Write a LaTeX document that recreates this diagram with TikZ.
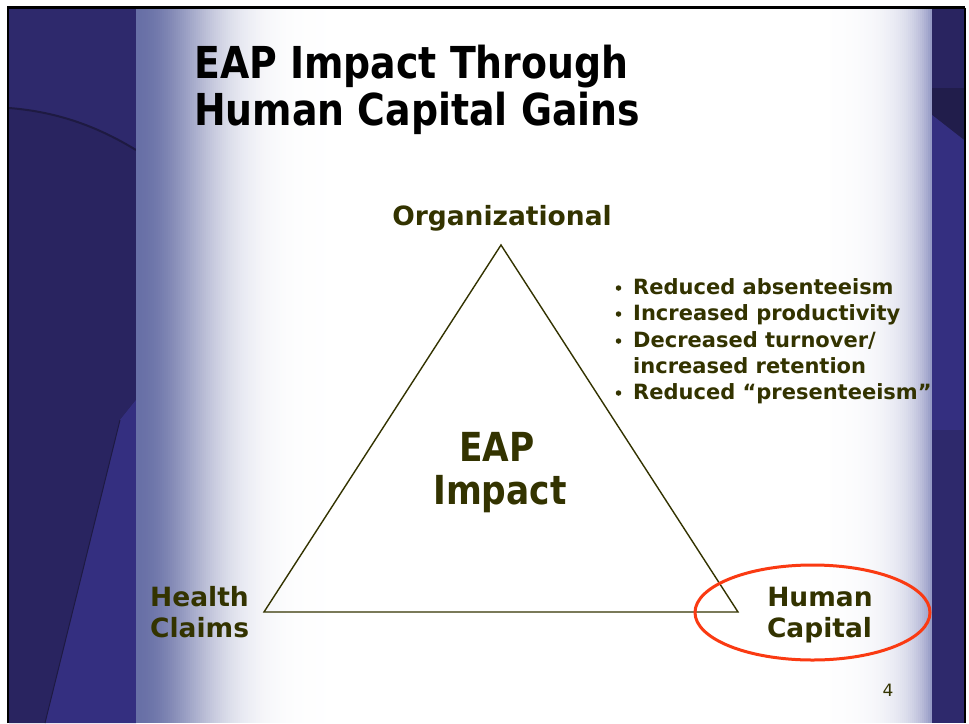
\documentclass[tikz,border=0pt]{standalone}
\usepackage{fontspec}
\setmainfont{DejaVu Sans}
\newfontface\headfont{DejaVu Sans Bold}[FakeStretch=0.86]
\newfontface\boldfont{DejaVu Sans Bold}
\usetikzlibrary{shapes.geometric}

\definecolor{olivetext}{RGB}{51,51,0}
\definecolor{ringred}{RGB}{250,58,18}
\definecolor{panelmid}{RGB}{46,41,108}
\definecolor{paneldark}{RGB}{41,36,96}
\definecolor{panellight}{RGB}{52,47,128}
\definecolor{paneledge}{RGB}{30,26,66}
\definecolor{gradleft}{RGB}{104,112,166}
\definecolor{gradright}{RGB}{145,150,195}

\begin{document}
\begin{tikzpicture}[x=1pt,y=-1pt,
  titletext/.style={inner sep=0, text=black, font=\headfont\fontsize{44}{48}\selectfont},
  bigtext/.style={inner sep=0, text=olivetext, font=\headfont\fontsize{40}{44}\selectfont},
  cornertext/.style={inner sep=0, text=olivetext, font=\boldfont\fontsize{26.5}{30}\selectfont},
  bullettext/.style={inner sep=0, anchor=base west, text=olivetext, font=\boldfont\fontsize{21}{24}\selectfont},
  dot/.style={circle, fill=olivetext, inner sep=0, minimum size=5.5pt},
  triline/.style={draw=olivetext, line width=1.4pt, line join=miter},
  ring/.style={draw=ringred, line width=3pt, ellipse, inner sep=0},
]
\useasboundingbox (0,0) rectangle (969,723);

% slide background
\fill[white] (0,0) rectangle (969,723);

% left textured panel
\fill[panelmid] (9,8) rectangle (136,723);
\fill[paneldark] (9,108) .. controls (60,112) and (100,128) .. (136,150)
  -- (136,400) -- (120,420) -- (45,723) -- (9,723) -- cycle;
\fill[panellight] (136,400) -- (136,723) -- (45,723) -- (120,420) -- cycle;
\draw[paneledge, line width=2pt] (9,108) .. controls (60,112) and (100,128) .. (136,150);
\draw[paneledge, line width=1pt] (120,420) -- (45,723);

% right textured panel
\fill[paneldark] (932,8) rectangle (964,723);
\fill[paneledge!70!paneldark] (932,88) -- (964,88) -- (964,140) -- (932,115) -- cycle;
\fill[panellight] (932,115) -- (964,140) -- (964,430) -- (932,430) -- cycle;
\fill[panelmid] (932,430) rectangle (964,723);

% soft fades from the panels into the white slide
\foreach \x in {136,138,...,340}{
  \pgfmathsetmacro\p{100*exp(-((\x-136)/77)^2)}
  \fill[gradleft!\p!white] (\x,9) rectangle (\x+2.3,723);
}
\foreach \x in {830,832,...,930}{
  \pgfmathsetmacro\p{100*exp(-(931-\x)/23)}
  \fill[gradright!\p!white] (\x,9) rectangle (\x+2.3,723);
}

% slide frame
\draw[black, line width=2.6pt] (8,723) -- (8,7.5) -- (964.5,7.5);
\draw[black, line width=2pt] (964.5,7.5) -- (964.5,723);

% title
\node[titletext, anchor=base west] (title1) at (194,78) {EAP Impact Through};
\node[titletext, anchor=base west] (title2) at (194,125) {Human Capital Gains};

% triangle of impact areas
\coordinate (apex) at (501,245);
\coordinate (left) at (264,612);
\coordinate (right) at (738,612);
\draw[triline] (apex) -- (left) -- (right) -- cycle;

\node[cornertext, anchor=base] (org) at (502,225) {Organizational};
\node[bigtext, anchor=base] (eap) at (497,461) {EAP};
\node[bigtext, anchor=base] (impact) at (500,504) {Impact};

\node[cornertext, anchor=base west] (health) at (150,606) {Health};
\node[cornertext, anchor=base west] (claims) at (150,637) {Claims};

\node[cornertext, anchor=base] (human) at (820,606) {Human};
\node[cornertext, anchor=base] (capital) at (819.5,637) {Capital};

% highlight around the human capital corner
\node[ring, minimum width=235pt, minimum height=95pt] (hcring) at (812.5,612.5) {};

% gains listed beside the triangle
\node[bullettext] (b1) at (633,294) {Reduced absenteeism};
\node[bullettext] (b2) at (633,320) {Increased productivity};
\node[bullettext] (b3) at (633,347) {Decreased turnover/};
\node[bullettext] (b4) at (633,373) {increased retention};
\node[bullettext] (b5) at (633,399) {Reduced “presenteeism”};
\foreach \b in {b1,b2,b3,b5}{
  \node[dot] at ([xshift=-14.5pt,yshift=6pt]\b.base west) {};
}

% slide number
\node[inner sep=0, anchor=base west, text=olivetext, font=\fontsize{17}{20}\selectfont] (pagenum) at (882.5,696) {4};
\end{tikzpicture}
\end{document}
